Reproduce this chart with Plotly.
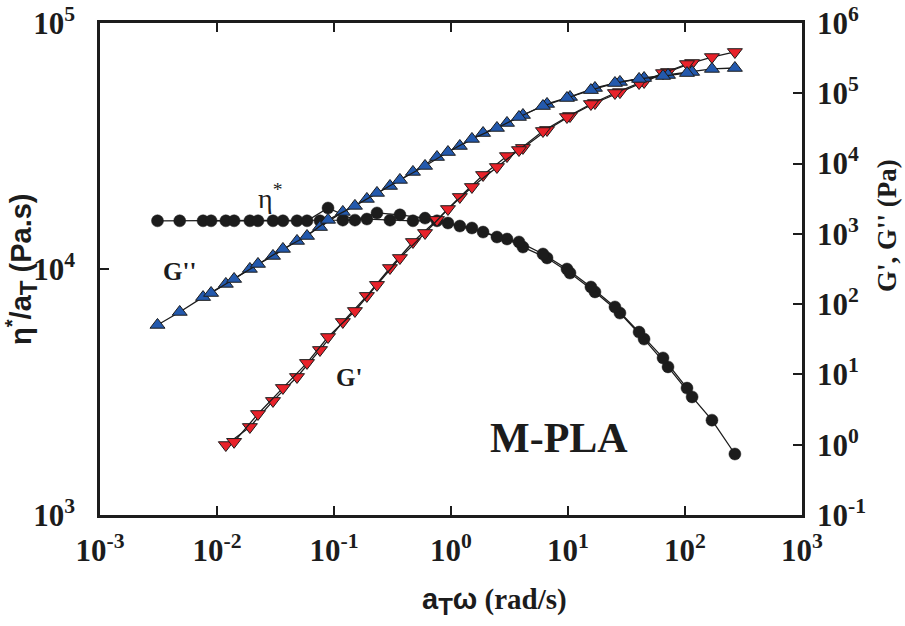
import plotly.graph_objects as go

# Reduced frequency aT*omega (rad/s) for the two overlapping master-curve sets
freq_a = [0.0031, 0.0048, 0.0076, 0.0119, 0.0191, 0.0301, 0.0483, 0.0759, 0.119, 0.191,
          0.301, 0.473, 0.759, 1.19, 1.88, 3.01, 4.12, 6.62, 10.4, 17.0,
          27.8, 44.7, 71.6, 115, 170, 267]
freq_b = [0.0089, 0.0140, 0.0224, 0.0366, 0.0588, 0.0889, 0.151, 0.233, 0.366, 0.600,
          0.942, 1.51, 2.47, 3.81, 6.11, 9.8, 15.7, 25.2, 40.5, 64.9, 104]

# Complex viscosity eta*/aT (Pa.s)
eta_a = [15700, 15700, 15700, 15700, 15700, 15700, 15700, 15700, 15800, 15960,
         15800, 15700, 15700, 14950, 14130, 13240, 12280, 11090, 9630, 8070,
         6620, 5190, 4000, 3020, 2430, 1770]
eta_b = [15700, 15700, 15700, 15700, 15700, 17700, 15800, 16900, 16600, 16100,
         15380, 14680, 13490, 12880, 11510, 10000, 8450, 7010, 5540, 4350, 3280]

# Loss modulus G'' (Pa)
g2_a = [50.6, 77.4, 126, 194, 317, 485, 793, 1250, 2050, 3140,
        4800, 7600, 12400, 17800, 27200, 37800, 49100, 70500, 88600, 119000,
        145000, 165000, 182000, 201000, 222000, 229000]
g2_b = [144, 228, 373, 610, 933, 1580, 2500, 3820, 5850, 9250,
        14600, 22400, 32100, 46000, 65900, 85700, 111000, 140000, 160000, 176000, 194000]

# Storage modulus G' (Pa); measured from the 5th (set A) / 2nd (set B) frequency on
g1_a = [0.99, 1.79, 4.20, 9.21, 22.3, 55.8, 131, 327, 767, 1580,
        3350, 6890, 12800, 16700, 30100, 47500, 72800, 104000, 145000, 201000,
        270000, 328000, 387000]
g1_b = [1.10, 2.74, 6.43, 14.6, 34.1, 80.0, 188, 454, 1030, 2260,
        4650, 8950, 15600, 29100, 46000, 70500, 101000, 140000, 194000, 261000]
g1_freq_a = freq_a[len(freq_a) - len(g1_a):]
g1_freq_b = freq_b[len(freq_b) - len(g1_b):]

x_ticks = [1e-3, 1e-2, 1e-1, 1e0, 1e1, 1e2, 1e3]
x_ticktext = ["10<sup>-3</sup>", "10<sup>-2</sup>", "10<sup>-1</sup>", "10<sup>0</sup>",
              "10<sup>1</sup>", "10<sup>2</sup>", "10<sup>3</sup>"]
y_ticks = [1e3, 1e4, 1e5]
y_ticktext = ["10<sup>3</sup>", "10<sup>4</sup>", "10<sup>5</sup>"]
y2_ticks = [1e-1, 1e0, 1e1, 1e2, 1e3, 1e4, 1e5, 1e6]
y2_ticktext = ["10<sup>-1</sup>", "10<sup>0</sup>", "10<sup>1</sup>", "10<sup>2</sup>",
               "10<sup>3</sup>", "10<sup>4</sup>", "10<sup>5</sup>", "10<sup>6</sup>"]

INK = "#1c1c1c"
BLUE = "#2359ad"
RED = "#e8222a"
SERIF = "Liberation Serif"
SANS = "Liberation Sans"

W, H = 905, 626
ML, MR, MT, MB = 100, 103, 23, 111

fig = go.Figure()

line = dict(color=INK, width=1.3)

for fx, fy in ((freq_a, eta_a), (freq_b, eta_b)):
    fig.add_trace(go.Scatter(
        x=fx, y=fy, mode="lines+markers", yaxis="y", line=line,
        marker=dict(symbol="circle", size=12, color=INK, line=dict(color=INK, width=0.5)),
        showlegend=False, hoverinfo="skip"))

for fx, fy in ((g1_freq_a, g1_a), (g1_freq_b, g1_b)):
    fig.add_trace(go.Scatter(
        x=fx, y=fy, mode="lines+markers", yaxis="y2", line=line,
        marker=dict(symbol="triangle-down", size=13, color=RED, line=dict(color=INK, width=1)),
        showlegend=False, hoverinfo="skip"))

for fx, fy in ((freq_a, g2_a), (freq_b, g2_b)):
    fig.add_trace(go.Scatter(
        x=fx, y=fy, mode="lines+markers", yaxis="y2", line=line,
        marker=dict(symbol="triangle-up", size=13, color=BLUE, line=dict(color=INK, width=1)),
        showlegend=False, hoverinfo="skip"))

tick_font = dict(family=SERIF, size=31, color=INK, weight="bold")
axis_common = dict(type="log", showline=True, linecolor=INK, linewidth=2.5,
                   ticks="inside", ticklen=9, tickwidth=2, tickcolor=INK,
                   showgrid=False, zeroline=False, tickfont=tick_font, tickmode="array",
                   automargin=False)

fig.update_layout(
    width=W, height=H,
    margin=dict(l=ML, r=MR, t=MT, b=MB),
    paper_bgcolor="white", plot_bgcolor="white",
    xaxis=dict(range=[-3, 3], tickvals=x_ticks, ticktext=x_ticktext, mirror="ticks",
               ticklabelstandoff=6, **axis_common),
    yaxis=dict(range=[3, 5], tickvals=y_ticks, ticktext=y_ticktext,
               ticklabelstandoff=16, **axis_common),
    yaxis2=dict(range=[-1, 6], tickvals=y2_ticks, ticktext=y2_ticktext,
                overlaying="y", side="right", ticklabelstandoff=6, **axis_common),
)

big_sub_t = '<sub><span style="font-size:24px">T</span></sub>'
ann_font = dict(family=SERIF, color=INK, weight="bold")
annotations = [
    dict(text="η<sup>*</sup>/a" + big_sub_t + " (Pa.s)", x=21, y=269, textangle=-90,
         font=dict(family=SANS, size=29, color=INK, weight="bold")),
    dict(text="G', G'' (Pa)", x=887, y=226, textangle=-90, font=dict(size=27, **ann_font)),
    dict(text='<span style="font-family:Liberation Sans">a' + big_sub_t + 'ω</span> (rad/s)',
         x=494, y=601, font=dict(size=29, **ann_font)),
    dict(text="η<sup>*</sup>", x=270, y=196,
         font=dict(family=SERIF, size=28, color=INK)),
    dict(text="G''", x=179, y=271, font=dict(size=25, **ann_font)),
    dict(text="G'", x=349, y=377, font=dict(size=25, **ann_font)),
    dict(text="M-PLA", x=559, y=438, font=dict(size=42, **ann_font)),
]
pw, ph = W - ML - MR, H - MT - MB
for a in annotations:
    px, py = a.pop("x"), a.pop("y")
    fig.add_annotation(x=(px - ML) / pw, y=(H - MB - py) / ph, xref="paper", yref="paper",
                       xanchor="center", yanchor="middle", showarrow=False, **a)

fig.write_html("out.html")
